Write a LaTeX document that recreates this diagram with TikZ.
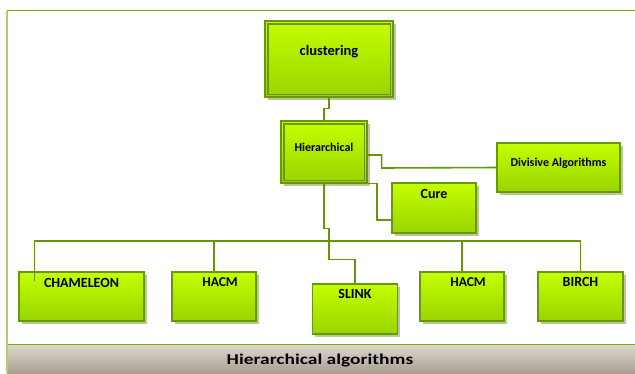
\documentclass[tikz,border=0pt]{standalone}
\usepackage{fontspec}
\setmainfont{Carlito}
\newfontfamily\titlefont[FakeStretch=1.3]{Carlito}
\usetikzlibrary{shadows}

\definecolor{limetop}{RGB}{196,255,0}
\definecolor{limebot}{RGB}{152,212,0}
\definecolor{limeedge}{RGB}{104,150,12}
\definecolor{wirecol}{RGB}{104,148,8}
\definecolor{shadowcol}{RGB}{160,176,112}
\definecolor{framegreen}{RGB}{118,172,0}
\definecolor{frameleft}{RGB}{178,204,112}
\definecolor{bandtop}{RGB}{222,218,210}
\definecolor{bandbot}{RGB}{168,158,142}

\begin{document}
\begin{tikzpicture}[x=1pt,y=-1pt,
  box/.style={draw=limeedge,line width=1.1pt,top color=limetop,bottom color=limebot,
    inner sep=0pt,
    general shadow={fill=shadowcol,opacity=.7,shadow xshift=2.5pt,shadow yshift=-2.5pt}},
  lbl/.style={font=\bfseries\fontsize{#1}{#1}\selectfont},
  wire/.style={draw=wirecol,line width=1.6pt}]

\useasboundingbox (0,0) rectangle (635,373);

% Frame and caption band
\draw[framegreen,line width=1.4pt] (7,10.5) -- (635,10.5);
\shade[top color=bandtop,bottom color=bandbot] (7,344) rectangle (635,373);
\draw[framegreen,line width=1.4pt] (7,344.5) -- (635,344.5);
\draw[frameleft,line width=1.8pt] (7,10.5) -- (7,373);
\node[anchor=base,font=\titlefont\bfseries\fontsize{15}{17}\selectfont] (cap) at (320,364) {Hierarchical algorithms};

% Upper boxes
\node[box,lbl=14.5,minimum width=128pt,text height=34pt,text depth=42pt] (clus) at (329,59) {clustering};
\node[box,lbl=12,minimum width=86pt,text height=30pt,text depth=32pt] (hier) at (324,152) {Hierarchical};
\draw[limeedge,line width=1.1pt] ([shift={(3.5,3.5)}]clus.north west) rectangle ([shift={(-3.5,-3.5)}]clus.south east);
\draw[limeedge,line width=1.1pt] ([shift={(3.5,3.5)}]hier.north west) rectangle ([shift={(-3.5,-3.5)}]hier.south east);
\node[box,lbl=12,minimum width=123pt,text height=23pt,text depth=26pt] (div) at (558.5,167.5) {Divisive Algorithms};
\node[box,lbl=14,minimum width=84pt,text height=15pt,text depth=35pt] (cure) at (434,208) {Cure};

% Leaves
\node[box,lbl=14,minimum width=125pt,text height=15pt,text depth=34pt] (cham) at (81.5,296.5) {CHAMELEON};
\node[box,lbl=13.5,minimum width=84pt,text height=14pt,text depth=35pt] (hacma) at (214,296.5) {\hspace*{12pt}HACM};
\node[box,lbl=14,minimum width=85pt,text height=14pt,text depth=36pt] (slink) at (355,309) {SLINK};
\node[box,lbl=13.5,minimum width=84pt,text height=14pt,text depth=35pt] (hacmb) at (462,296.5) {\hspace*{12pt}HACM};
\node[box,lbl=14,minimum width=85pt,text height=14pt,text depth=35pt] (birch) at (580.5,296.5) {BIRCH};

% Links
\coordinate (bus) at (0,241);
\coordinate (jog) at (329,259.5);
\draw[wire] (clus.south) -- ++(0,11) -| (hier.north);
\draw[wire] ([yshift=-3pt]hier.east) -- ++(14,0) -- ++(0,13) -- (div.west);
\draw[wire] ([xshift=4pt]hier.south) -- ++(49,0) |- ([yshift=-12pt]cure.west);
\draw[wire] (hier.south) -- ++(0,45) -- ++(5,0) -- (jog);
\draw[wire] (jog) -| (slink.north);
\draw[wire] ([shift={(16pt,-10pt)}]cham.north west) |- (bus -| birch.north) -- (birch.north);
\draw[wire] (hacma.north) -- (hacma.north |- bus);
\draw[wire] (hacmb.north) -- (hacmb.north |- bus);

\end{tikzpicture}
\end{document}
